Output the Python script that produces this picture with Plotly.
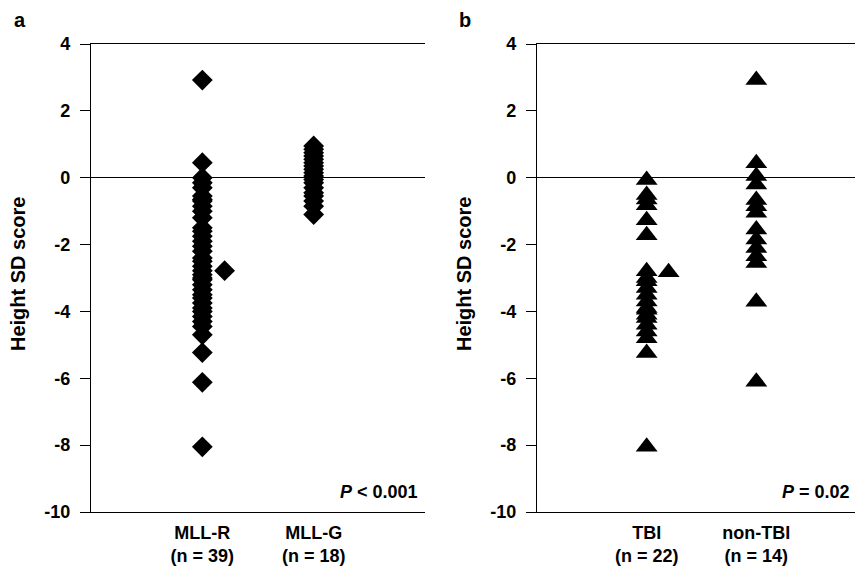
import plotly.graph_objects as go

# ---- data ----
groups_a = ["MLL-R", "MLL-G"]
counts_a = [39, 18]
mllr = [2.92, 0.45, 0.0, -0.15, -0.3, -0.55, -0.65, -0.7, -0.85, -1.0, -1.2, -1.5, -1.6,
        -1.75, -1.9, -2.05, -2.2, -2.4, -2.5, -2.65, -2.78, -2.9, -3.0, -3.05, -3.2, -3.35,
        -3.5, -3.6, -3.75, -3.9, -4.0, -4.15, -4.3, -4.45, -4.7, -5.23, -6.12, -8.05]
mllr_side = [-2.78]
mllg = [0.95, 0.85, 0.75, 0.65, 0.55, 0.45, 0.35, 0.25, 0.15, 0.05, -0.05, -0.15,
        -0.3, -0.45, -0.55, -0.7, -0.85, -1.1]

groups_b = ["TBI", "non-TBI"]
counts_b = [22, 14]
tbi = [-0.07, -0.52, -0.65, -0.82, -1.27, -1.72, -2.8, -3.0, -3.1, -3.3, -3.5, -3.7,
       -3.9, -3.95, -4.1, -4.2, -4.4, -4.6, -4.8, -5.24, -8.05]
tbi_side = [-2.83]
nontbi = [2.92, 0.43, 0.05, -0.2, -0.67, -0.85, -1.05, -1.55, -1.85, -2.1, -2.35, -2.55,
          -3.71, -6.1]

p_a = "<i>P</i> < 0.001"
p_b = "<i>P</i> = 0.02"
y_ticks = [4, 2, 0, -2, -4, -6, -8, -10]

# ---- figure ----
W, H = 859, 567
FONT = "Liberation Sans, Arial, sans-serif"
fig = go.Figure()

dia = dict(symbol="diamond", size=16, color="black", line=dict(width=0))
tri = dict(symbol="triangle-up", size=19, color="black", line=dict(width=0))

fig.add_trace(go.Scatter(x=[1] * len(mllr), y=mllr, mode="markers", marker=dia,
                         xaxis="x", yaxis="y", showlegend=False))
fig.add_trace(go.Scatter(x=[1.2] * len(mllr_side), y=mllr_side, mode="markers", marker=dia,
                         xaxis="x", yaxis="y", showlegend=False))
fig.add_trace(go.Scatter(x=[2] * len(mllg), y=mllg, mode="markers", marker=dia,
                         xaxis="x", yaxis="y", showlegend=False))

fig.add_trace(go.Scatter(x=[1] * len(tbi), y=tbi, mode="markers", marker=tri,
                         xaxis="x2", yaxis="y2", showlegend=False))
fig.add_trace(go.Scatter(x=[1.2] * len(tbi_side), y=tbi_side, mode="markers", marker=tri,
                         xaxis="x2", yaxis="y2", showlegend=False))
fig.add_trace(go.Scatter(x=[2] * len(nontbi), y=nontbi, mode="markers", marker=tri,
                         xaxis="x2", yaxis="y2", showlegend=False))

ydom = [1 - 512 / H, 1 - 44 / H]
xdom_a = [91 / W, 425 / W]
xdom_b = [537 / W, 855 / W]

tickfont = dict(family=FONT, size=18, color="black")
xtickfont = dict(family=FONT, size=18, color="black")

def xax(dom, labels, counts, rng, anchor):
    return dict(domain=dom, range=rng, anchor=anchor, showgrid=False, zeroline=False,
                showline=True, mirror=True, linecolor="black", linewidth=1.2,
                ticks="", tickmode="array", tickvals=[1, 2],
                ticktext=[f"<b>{l}<br>(n = {c})</b>" for l, c in zip(labels, counts)],
                tickfont=xtickfont, ticklabelstandoff=4, automargin=False,
                fixedrange=True)

def yax(anchor):
    return dict(domain=ydom, range=[-10, 4], anchor=anchor, showgrid=False,
                zeroline=True, zerolinecolor="black", zerolinewidth=1.2,
                showline=True, linecolor="black", linewidth=1.2,
                ticks="outside", ticklen=10, tickwidth=1.2, tickcolor="black",
                tickmode="array", tickvals=y_ticks,
                ticktext=[f"<b>{v}</b>" for v in y_ticks],
                tickfont=tickfont, ticklabelstandoff=6, automargin=False,
                fixedrange=True)

fig.update_layout(
    template="none",
    width=W, height=H,
    margin=dict(l=0, r=0, t=0, b=0, pad=0),
    paper_bgcolor="white", plot_bgcolor="white",
    xaxis=xax(xdom_a, groups_a, counts_a, [0, 3], "y"),
    yaxis=yax("x"),
    xaxis2=xax(xdom_b, groups_b, counts_b, [0, 2.9], "y2"),
    yaxis2=yax("x2"),
    font=dict(family=FONT, color="black"),
)

ann = []
for xp, letter in [(12 / W, "a"), (457 / W, "b")]:
    ann.append(dict(x=xp, y=1 - 20 / H, xref="paper", yref="paper", text=f"<b>{letter}</b>",
                    showarrow=False, xanchor="left", yanchor="middle",
                    font=dict(family=FONT, size=20, color="black")))
for xp in [18 / W, 464 / W]:
    ann.append(dict(x=xp, y=1 - 274 / H, xref="paper", yref="paper",
                    text="<b>Height SD score</b>", textangle=-90, showarrow=False,
                    xanchor="center", yanchor="middle",
                    font=dict(family=FONT, size=20, color="black")))
ann.append(dict(x=420 / W, y=-9.4, xref="paper", yref="y", text=f"<b>{p_a}</b>",
                showarrow=False, xanchor="right", yanchor="middle",
                font=dict(family=FONT, size=18, color="black")))
ann.append(dict(x=852 / W, y=-9.4, xref="paper", yref="y2", text=f"<b>{p_b}</b>",
                showarrow=False, xanchor="right", yanchor="middle",
                font=dict(family=FONT, size=18, color="black")))
fig.update_layout(annotations=ann)

fig.write_html("out.html", config={"displayModeBar": False},
               post_script="document.body.style.margin='0';document.body.style.overflow='hidden';")
